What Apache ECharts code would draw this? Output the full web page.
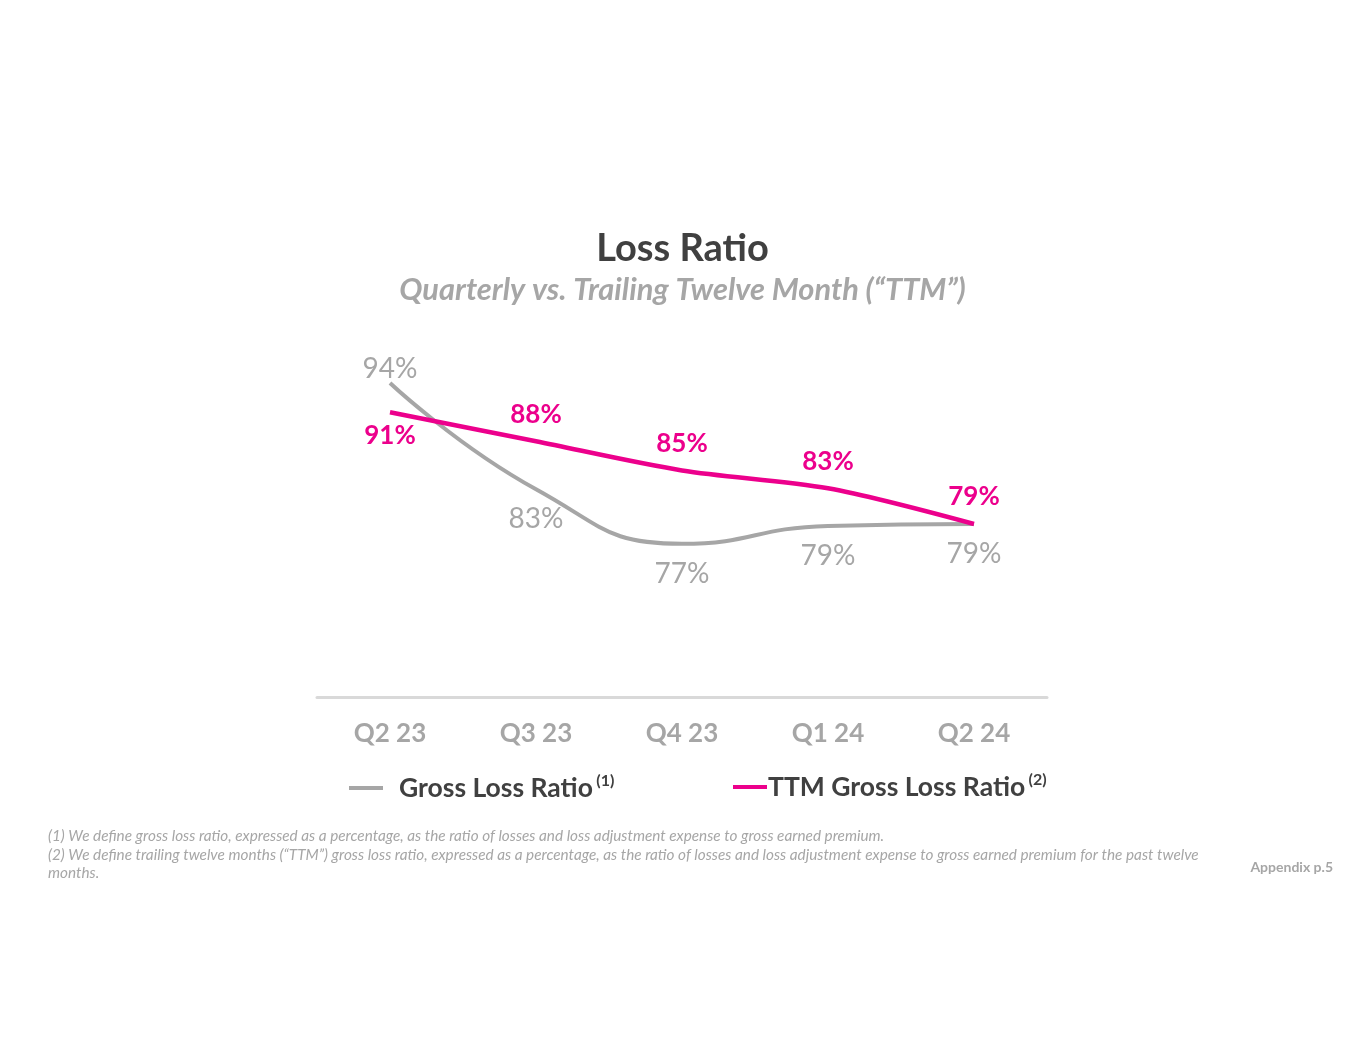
<!DOCTYPE html>
<html>
<head>
    <meta charset="utf-8">
    <title>Loss Ratio</title>
    <script src="https://cdn.jsdelivr.net/npm/echarts@6/dist/echarts.min.js"></script>
    <style>
        html, body { margin: 0; padding: 0; background: #ffffff; }
        #chart { width: 1365px; height: 1055px; }
    </style>
</head>
<body>
<div id="chart"></div>
<script>
    // quarters along the x axis
    var quarters = ['Q2 23', 'Q3 23', 'Q4 23', 'Q1 24', 'Q2 24'];
    // gross loss ratio (quarterly), %
    var grossLoss = [94.4, 83.1, 77.3, 79.2, 79.4];
    // trailing twelve month gross loss ratio, %
    var ttmLoss = [91.3, 88.2, 85.1, 83.2, 79.4];
    // where each value label sits relative to its point
    var grossLabelPos = ['top', 'bottom', 'bottom', 'bottom', 'bottom'];
    var ttmLabelPos = ['bottom', 'top', 'top', 'top', 'top'];

    var GRAY = '#a6a6a6';
    var PINK = '#ec008c';
    var DARK = '#404040';

    function withLabels(values, positions, dist) {
        return values.map(function (v, i) {
            return { value: v, label: { position: positions[i], distance: positions[i] === 'top' ? dist[0] : dist[1] } };
        });
    }

    var chart = echarts.init(document.getElementById('chart'));
    chart.setOption({
        backgroundColor: '#ffffff',
        animation: false,
        title: [{
            text: 'Loss Ratio',
            left: 'center',
            top: 225,
            textStyle: { fontFamily: 'Lato', fontSize: 38, fontWeight: 'bold', color: DARK }
        }, {
            text: 'Quarterly vs. Trailing Twelve Month (\u201cTTM\u201d)',
            left: 'center',
            top: 270,
            textStyle: { fontFamily: 'Lato', fontSize: 30.8, fontWeight: 'bold', fontStyle: 'italic', color: GRAY }
        }],
        legend: [{
            left: 344,
            top: 768,
            data: ['Gross Loss Ratio'],
            icon: 'rect',
            itemWidth: 34,
            itemHeight: 4,
            itemGap: 0,
            formatter: function (name) { return '{a|' + name + '} {s|(1)}'; },
            textStyle: {
                padding: [0, 0, 0, 11],
                rich: {
                    a: { fontFamily: 'Lato', fontSize: 26.5, fontWeight: 'bold', color: DARK },
                    s: { fontFamily: 'Lato', fontSize: 16, fontWeight: 'bold', color: DARK, verticalAlign: 'top', padding: [0, 0, 14, 0] }
                }
            }
        }, {
            left: 728,
            top: 767,
            data: ['TTM Gross Loss Ratio'],
            icon: 'rect',
            itemWidth: 34,
            itemHeight: 4,
            itemGap: 0,
            itemStyle: { color: PINK },
            formatter: function (name) { return '{a|' + name + '} {s|(2)}'; },
            textStyle: {
                padding: [0, 0, 0, -4],
                rich: {
                    a: { fontFamily: 'Lato', fontSize: 26.5, fontWeight: 'bold', color: DARK },
                    s: { fontFamily: 'Lato', fontSize: 16, fontWeight: 'bold', color: DARK, verticalAlign: 'top', padding: [0, 0, 14, 0] }
                }
            }
        }],
        grid: { left: 317, right: 318, top: 321, bottom: 358 },
        xAxis: {
            type: 'category',
            data: quarters,
            boundaryGap: true,
            axisLine: { lineStyle: { color: '#d9d9d9', width: 3 } },
            axisTick: { show: false },
            axisLabel: {
                margin: 24,
                fontFamily: 'Lato',
                fontSize: 26,
                fontWeight: 'bold',
                color: GRAY
            }
        },
        yAxis: {
            type: 'value',
            min: 61,
            max: 101,
            show: false,
            splitLine: { show: false }
        },
        series: [{
            name: 'Gross Loss Ratio',
            type: 'line',
            smooth: true,
            symbol: 'circle',
            symbolSize: 0,
            lineStyle: { color: GRAY, width: 4 },
            itemStyle: { color: GRAY },
            label: {
                show: true,
                fontFamily: 'Lato',
                fontSize: 28,
                color: GRAY,
                formatter: function (p) { return Math.round(p.value) + '%'; }
            },
            data: withLabels(grossLoss, grossLabelPos, [0, 16])
        }, {
            name: 'TTM Gross Loss Ratio',
            type: 'line',
            smooth: 0.3,
            symbol: 'circle',
            symbolSize: 0,
            lineStyle: { color: PINK, width: 4.5 },
            itemStyle: { color: PINK },
            label: {
                show: true,
                fontFamily: 'Lato',
                fontSize: 26,
                fontWeight: 'bold',
                color: PINK,
                formatter: function (p) { return Math.round(p.value) + '%'; }
            },
            data: withLabels(ttmLoss, ttmLabelPos, [14, 10])
        }],
        graphic: [{
            type: 'text',
            left: 48,
            top: 827,
            style: {
                text: '(1) We define gross loss ratio, expressed as a percentage, as the ratio of losses and loss adjustment expense to gross earned premium.\n' +
                    '(2) We define trailing twelve months (\u201cTTM\u201d) gross loss ratio, expressed as a percentage, as the ratio of losses and loss adjustment expense to gross earned premium for the past twelve\nmonths.',
                font: 'italic 15.3px Lato',
                lineHeight: 18.5,
                fill: GRAY
            }
        }, {
            type: 'text',
            right: 32,
            top: 860,
            style: {
                text: 'Appendix p.5',
                font: 'bold 14px Lato',
                fill: GRAY
            }
        }]
    });
</script>
</body>
</html>
